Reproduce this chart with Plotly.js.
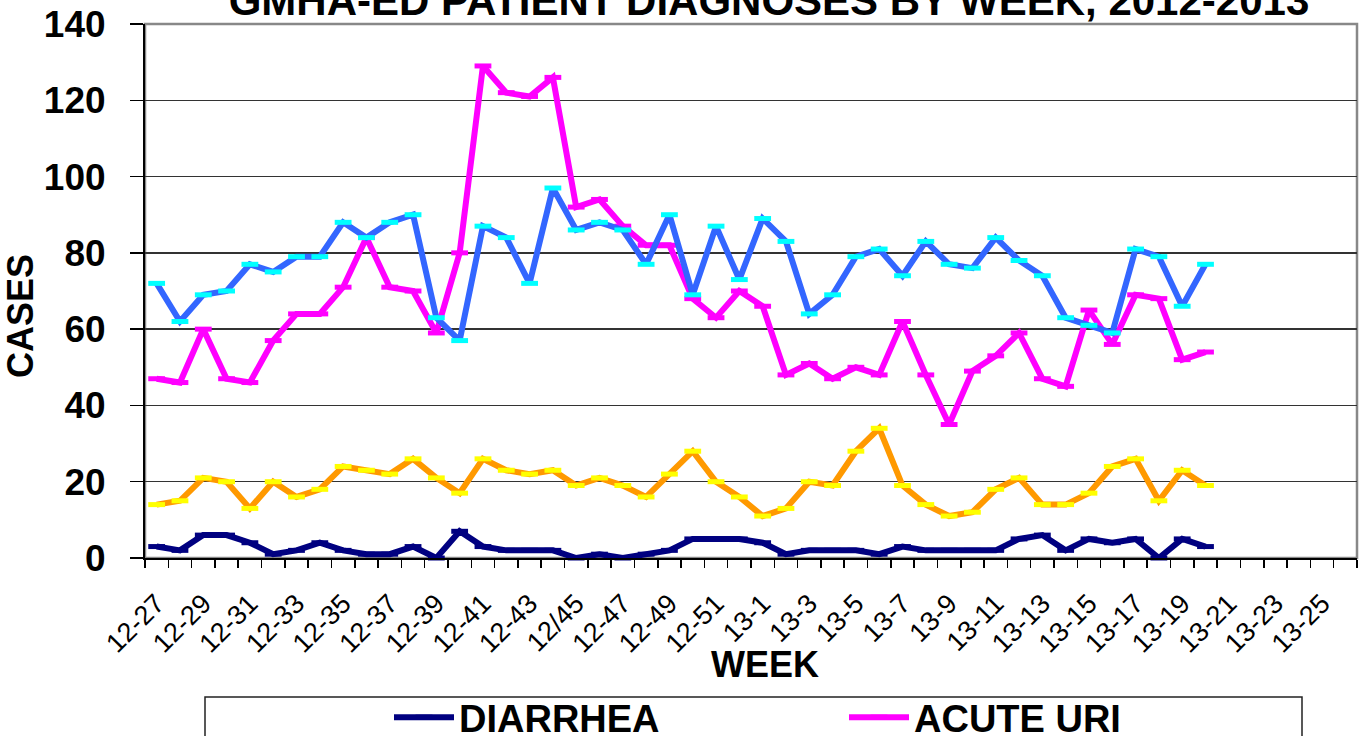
<!DOCTYPE html>
<html>
<head>
<meta charset="utf-8">
<script src="https://cdn.plot.ly/plotly-3.0.1.min.js"></script>
<style>
  html, body { margin: 0; padding: 0; background: #fff; }
  #chart { width: 1361px; height: 736px; }
</style>
</head>
<body>
<div id="chart"></div>
<script>
// Week categories (x axis)
const weeks = [
  "12-27","12-28","12-29","12-30","12-31","12-32","12-33","12-34","12-35","12-36",
  "12-37","12-38","12-39","12-40","12-41","12-42","12-43","12-44","12/45","12-46",
  "12-47","12-48","12-49","12-50","12-51","12-52",
  "13-1","13-2","13-3","13-4","13-5","13-6","13-7","13-8","13-9","13-10",
  "13-11","13-12","13-13","13-14","13-15","13-16","13-17","13-18","13-19","13-20",
  "13-21","13-22","13-23","13-24","13-25","13-26"
];
// Tick labels: every other week is labelled
const tickLabels = weeks.map((w, i) => (i % 2 === 0 ? w : ""));

// Series values (weeks 12-27 .. 13-20)
const diarrhea = [3,2,6,6,4,1,2,4,2,1,1,3,0,7,3,2,2,2,0,1,0,1,2,5,5,5,4,1,2,2,2,1,3,2,2,2,2,5,6,2,5,4,5,0,5,3];
const acuteUri = [47,46,60,47,46,57,64,64,71,84,71,70,59,80,129,122,121,126,92,94,87,82,82,68,63,70,66,48,51,47,50,48,62,48,35,49,53,59,47,45,65,56,69,68,52,54];
const ili      = [72,62,69,70,77,75,79,79,88,84,88,90,63,57,87,84,72,97,86,88,86,77,90,69,87,73,89,83,64,69,79,81,74,83,77,76,84,78,74,63,61,59,81,79,66,77];
const feverRash= [14,15,21,20,13,20,16,18,24,23,22,26,21,17,26,23,22,23,19,21,19,16,22,28,20,16,11,13,20,19,28,34,19,14,11,12,18,21,14,14,17,24,26,15,23,19];

const seriesNames = ["DIARRHEA", "ACUTE URI", "ILI", "FEVER AND RASH"];
const yTicks = [0, 20, 40, 60, 80, 100, 120, 140];

const FONT = "Liberation Sans, Arial, sans-serif";

function mk(name, vals, lineColor, markColor, showLeg) {
  return {
    type: "scatter",
    mode: "lines+markers",
    name: name,
    x: weeks.slice(0, vals.length),
    y: vals,
    showlegend: showLeg,
    line: { color: lineColor, width: 6 },
    marker: { symbol: "line-ew-open", size: 12, color: markColor, line: { width: 5 } },
    cliponaxis: false
  };
}

const data = [
  mk(seriesNames[0], diarrhea, "#000080", "#000080", true),
  mk(seriesNames[1], acuteUri, "#FF00FF", "#FF00FF", true),
  mk(seriesNames[2], ili, "#3366FF", "#00FFFF", false),
  mk(seriesNames[3], feverRash, "#FF9900", "#FFFF00", false)
];

const layout = {
  width: 1361,
  height: 736,
  paper_bgcolor: "#fff",
  plot_bgcolor: "#fff",
  margin: { l: 145, r: 4, t: 24, b: 178, autoexpand: false },
  font: { family: FONT, color: "#000" },
  title: {
    text: "GMHA-ED PATIENT DIAGNOSES BY WEEK, 2012-2013",
    font: { family: FONT, size: 42, weight: "bold", color: "#000" },
    xref: "container", yref: "container",
    x: 0.565, xanchor: "center",
    y: 1, yanchor: "middle"
  },
  xaxis: {
    type: "category",
    categoryorder: "array",
    categoryarray: weeks,
    range: [-0.5, weeks.length - 0.5],
    tickmode: "array",
    tickvals: weeks,
    ticktext: tickLabels,
    tickson: "boundaries",
    tickangle: -45,
    ticks: "outside",
    ticklen: 8,
    tickwidth: 1.5,
    tickcolor: "#000",
    ticklabelstandoff: 17,
    tickfont: { family: FONT, size: 27, color: "#000" },
    showline: true,
    linecolor: "#000",
    linewidth: 2,
    showgrid: false,
    zeroline: false,
    automargin: false
  },
  yaxis: {
    range: [0, 140],
    tickmode: "array",
    tickvals: yTicks,
    ticks: "outside",
    ticklen: 13,
    tickwidth: 1.5,
    tickcolor: "#000",
    ticklabelstandoff: 17,
    tickfont: { family: FONT, size: 37, weight: "bold", color: "#000" },
    showline: true,
    linecolor: "#000",
    linewidth: 2,
    showgrid: true,
    gridcolor: "#333",
    gridwidth: 1.5,
    zeroline: false,
    automargin: false,
    title: {
      text: "CASES&nbsp;&nbsp;&nbsp;&nbsp;&nbsp;",
      font: { family: FONT, size: 36, weight: "bold", color: "#000" },
      standoff: 0
    }
  },
  annotations: [
    { text: "WEEK", xref: "paper", yref: "paper",
      x: (765 - 145) / 1212, y: (558 - 664) / 534,
      xanchor: "center", yanchor: "middle", showarrow: false,
      font: { family: FONT, size: 36, weight: "bold", color: "#000" } }
  ],
  shapes: [
    { type: "rect", xref: "paper", yref: "paper", x0: 0, x1: 1, y0: 0, y1: 1,
      line: { color: "#888", width: 2.5 }, layer: "between" },
    { type: "rect", xref: "paper", yref: "paper",
      x0: (205 - 145) / 1212, x1: (1302 - 145) / 1212,
      y0: -0.40, y1: (558 - 697) / 534,
      line: { color: "#222", width: 1.5 }, fillcolor: "rgba(0,0,0,0)", layer: "below" }
  ],
  legend: {
    orientation: "h",
    x: (389 - 145) / 1212,
    xanchor: "left",
    y: (558 - 686) / 534,
    yanchor: "top",
    bgcolor: "rgba(0,0,0,0)",
    borderwidth: 0,
    itemwidth: 60,
    entrywidth: 380,
    entrywidthmode: "pixels",
    font: { family: FONT, size: 38, weight: "bold", color: "#000" }
  },
  showlegend: true
};

Plotly.newPlot("chart", data, layout, { staticPlot: true, displayModeBar: false });
</script>
</body>
</html>
